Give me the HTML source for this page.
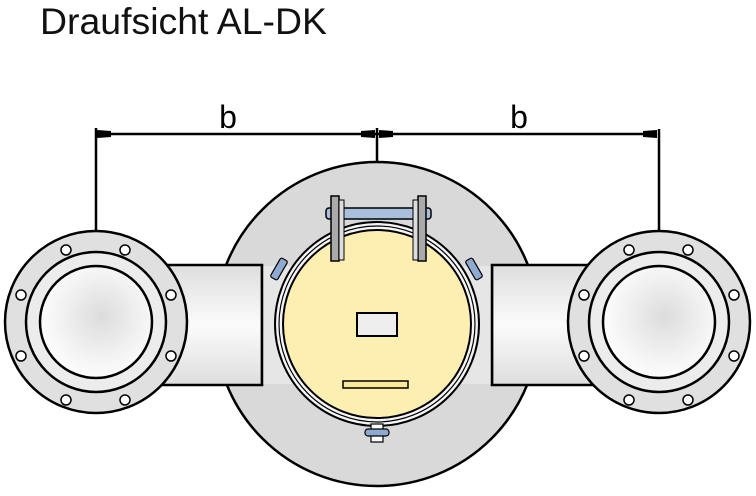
<!DOCTYPE html>
<html><head><meta charset="utf-8"><style>
html,body{margin:0;padding:0;background:#fff;}
svg{display:block;}
</style></head><body>
<svg width="756" height="496" viewBox="0 0 756 496" xmlns="http://www.w3.org/2000/svg">
<defs>
<radialGradient id="g1" cx="0.55" cy="0.45" r="0.6"><stop offset="0" stop-color="#dcdcdc"/><stop offset="0.6" stop-color="#f2f2f2"/><stop offset="1" stop-color="#fff"/></radialGradient>
<linearGradient id="pipe" x1="0" y1="0" x2="0" y2="1"><stop offset="0" stop-color="#dedede"/><stop offset="0.5" stop-color="#fbfbfb"/><stop offset="1" stop-color="#dedede"/></linearGradient>
</defs>
<text x="40" y="34" font-family="Liberation Sans, sans-serif" font-size="37" fill="#111" textLength="287" lengthAdjust="spacingAndGlyphs">Draufsicht AL-DK</text>
<g stroke="#000" stroke-width="2.5" fill="none">
<line x1="96" y1="134" x2="656" y2="134"/>
<line x1="96" y1="128" x2="96" y2="233"/>
<line x1="377" y1="128" x2="377" y2="162"/>
<line x1="659" y1="129" x2="659" y2="233"/>
</g>
<g fill="#000">
<polygon points="97,130 111,131 111,137 97,138"/>
<polygon points="375,130 361,131 361,137 375,138"/>
<polygon points="379,130 393,131 393,137 379,138"/>
<polygon points="657,130 643,131 643,137 657,138"/>
</g>
<text x="228" y="128" text-anchor="middle" font-family="Liberation Sans, sans-serif" font-size="32">b</text>
<text x="519" y="128" text-anchor="middle" font-family="Liberation Sans, sans-serif" font-size="32">b</text>
<circle cx="377" cy="324" r="162" fill="#d9d9d9" stroke="#000" stroke-width="2.5"/>
<rect x="150" y="265" width="112" height="120" fill="url(#pipe)" stroke="#000" stroke-width="2.5"/>
<rect x="492" y="265" width="112" height="120" fill="url(#pipe)" stroke="#000" stroke-width="2.5"/>
<rect x="262" y="266" width="230" height="118" fill="#e6e6e6"/>
<line x1="262" y1="265" x2="262" y2="385" stroke="#000" stroke-width="2.5"/>
<line x1="492" y1="265" x2="492" y2="385" stroke="#000" stroke-width="2.5"/>
<g stroke="#000" stroke-width="2.5">
<circle cx="96" cy="322" r="91" fill="#e0e0e0"/>
<circle cx="96" cy="322" r="70" fill="#ececec"/>
<circle cx="96" cy="322" r="56" fill="url(#g1)"/>
<circle cx="659" cy="322" r="91" fill="#e0e0e0"/>
<circle cx="659" cy="322" r="70" fill="#ececec"/>
<circle cx="659" cy="322" r="56" fill="url(#g1)"/>
</g>
<g fill="#fff" stroke="#000" stroke-width="1.5">
<circle cx="66" cy="250" r="5"/><circle cx="125" cy="250" r="5"/>
<circle cx="21" cy="295" r="5"/><circle cx="171" cy="295" r="5"/>
<circle cx="21" cy="356" r="5"/><circle cx="171" cy="356" r="5"/>
<circle cx="66" cy="400" r="5"/><circle cx="125" cy="400" r="5"/>
<circle cx="629" cy="250" r="5"/><circle cx="688" cy="250" r="5"/>
<circle cx="584" cy="295" r="5"/><circle cx="734" cy="295" r="5"/>
<circle cx="584" cy="356" r="5"/><circle cx="734" cy="356" r="5"/>
<circle cx="629" cy="400" r="5"/><circle cx="688" cy="400" r="5"/>
</g>
<circle cx="377" cy="324" r="102" fill="#f4f4f4" stroke="#000" stroke-width="2"/>
<circle cx="377" cy="324" r="98" fill="none" stroke="#000" stroke-width="1.2"/>
<circle cx="377" cy="324" r="94" fill="#fdeeb2" stroke="#000" stroke-width="2"/>
<rect x="357" y="313" width="40" height="23" fill="#eee" stroke="#000" stroke-width="2"/>
<rect x="343" y="381" width="65" height="7" fill="#fbe99a" stroke="#000" stroke-width="1.5"/>
<rect x="326" y="208" width="105" height="11" rx="3" fill="#a9c0dc" stroke="#000" stroke-width="1.5"/>
<rect x="331" y="196" width="8" height="65" fill="#aaa" stroke="#000" stroke-width="1.5"/>
<rect x="339" y="200" width="5" height="60" fill="#ddd" stroke="#000" stroke-width="1"/>
<rect x="418" y="196" width="8" height="65" fill="#aaa" stroke="#000" stroke-width="1.5"/>
<rect x="413" y="200" width="5" height="60" fill="#ddd" stroke="#000" stroke-width="1"/>
<g fill="#8eaad0" stroke="#000" stroke-width="1.2">
<rect x="275" y="258" width="8" height="22" rx="2" transform="rotate(30 279 269)"/>
<rect x="470" y="258" width="8" height="22" rx="2" transform="rotate(-30 474 269)"/>
<rect x="371" y="424" width="12" height="18" fill="#fff"/>
<rect x="365" y="429" width="24" height="7" rx="3"/>
</g>
</svg>
</body></html>
